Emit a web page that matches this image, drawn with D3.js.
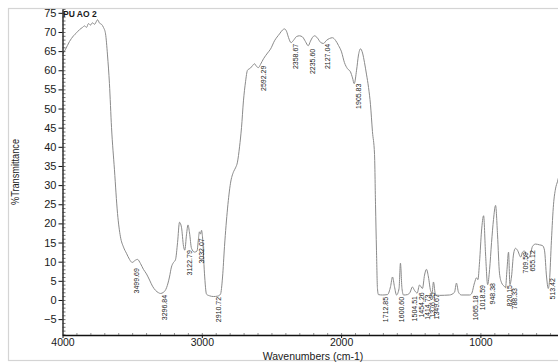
<!DOCTYPE html>
<html>
<head>
<meta charset="utf-8">
<script src="https://cdn.jsdelivr.net/npm/d3@7"></script>
<style>
  body { margin: 0; background: #fff; }
  svg { display: block; }
  text { font-family: "Liberation Sans", Arial, sans-serif; fill: #1a1a1a; }
</style>
</head>
<body>
<svg id="chart" width="558" height="363"></svg>
<script>
// IR spectrum of sample PU AO 2: wavenumber (cm-1) and %T
const wavenumbers = [
  4000, 3978, 3950, 3921, 3899, 3878, 3856, 3842, 3828, 3813, 3799, 3785, 3770, 3756, 3749,
  3734, 3720, 3706, 3691, 3677, 3663, 3648, 3627, 3605, 3584, 3562, 3541, 3519, 3500, 3476,
  3462, 3440, 3419, 3397, 3375, 3354, 3332, 3311, 3297, 3275, 3253, 3232, 3218, 3203, 3189,
  3174, 3160, 3146, 3131, 3122, 3110, 3099, 3088, 3074, 3052, 3034, 3024, 3017, 3009, 3002,
  2995, 2981, 2966, 2945, 2916, 2887, 2866, 2851, 2837, 2815, 2794, 2772, 2758, 2744, 2729,
  2715, 2701, 2686, 2672, 2650, 2636, 2622, 2607, 2593, 2579, 2557, 2528, 2507, 2478, 2442,
  2421, 2406, 2392, 2378, 2359, 2342, 2320, 2299, 2277, 2256, 2236, 2220, 2205, 2191, 2169,
  2148, 2127, 2105, 2083, 2062, 2040, 2019, 1997, 1976, 1954, 1933, 1918, 1906, 1889, 1875,
  1861, 1846, 1832, 1818, 1803, 1789, 1775, 1760, 1753, 1746, 1739, 1732, 1703, 1667, 1645,
  1631, 1617, 1602, 1584, 1574, 1563, 1552, 1523, 1505, 1488, 1473, 1454, 1437, 1416, 1401,
  1387, 1373, 1358, 1347, 1337, 1322, 1294, 1222, 1186, 1172, 1157, 1136, 1078, 1064, 1042,
  1028, 1018, 1006, 992, 977, 963, 948, 934, 920, 906, 891, 877, 863, 848, 827,
  820, 809, 798, 788, 777, 762, 748, 734, 710, 698, 683, 669, 655, 640, 626,
  604, 576, 554, 540, 525, 513, 504, 490, 475, 461, 446, 432, 411
];
const transmittance = [
  64.2, 65.5, 67.5, 69.0, 69.8, 70.6, 71.2, 71.6, 71.2, 72.2, 71.8, 72.4, 72.0, 72.8, 73.2,
  72.3, 72.0, 71.2, 69.5, 64.0, 56.5, 45.0, 34.0, 22.6, 16.5, 13.8, 12.2, 10.6, 9.8, 10.4,
  10.6, 9.5, 8.0, 6.8, 5.2, 3.6, 2.5, 1.9, 1.7, 2.0, 3.2, 6.0, 8.6, 9.8, 10.5,
  15.0, 20.3, 19.0, 14.0, 13.0, 17.0, 19.6, 17.5, 13.5, 12.5, 12.8, 16.0, 17.8, 17.2, 18.2,
  16.5, 7.0, 1.5, 1.1, 0.9, 1.0, 1.5, 6.0, 14.0, 24.0, 30.5, 33.5, 34.5, 36.0, 40.0,
  45.0, 52.0, 57.0, 60.0, 60.6, 61.2, 61.7, 61.0, 60.7, 61.5, 63.0, 64.5, 65.5, 67.7, 69.5,
  70.5, 70.8, 70.2, 68.6, 67.2, 67.8, 68.8, 69.0, 68.7, 67.5, 66.4, 67.6, 68.6, 69.0, 68.4,
  67.3, 67.0, 67.8, 68.3, 68.5, 67.8, 66.5, 64.8, 62.0, 60.4, 59.6, 58.0, 56.5, 60.0, 64.0,
  65.6, 64.5, 62.0, 59.0, 55.5, 51.0, 44.0, 38.0, 25.0, 13.0, 3.0, 1.4, 1.3, 1.4, 3.5,
  6.0, 3.5, 1.3, 3.0, 9.6, 3.0, 1.3, 1.4, 2.0, 3.4, 2.5, 1.8, 3.9, 3.0, 6.5,
  8.0, 6.0, 2.5, 1.8, 4.7, 1.3, 1.2, 1.3, 2.0, 4.4, 2.0, 1.3, 1.3, 1.6, 4.5,
  5.8, 5.3, 10.0, 18.0, 22.0, 12.0, 4.0, 8.0, 15.0, 21.0, 24.7, 17.0, 7.0, 4.5, 3.5,
  3.2, 8.0, 12.5, 4.0, 6.0, 12.0, 13.5, 13.0, 11.2, 12.5, 12.8, 11.5, 11.0, 12.0, 14.0,
  14.6, 14.4, 14.2, 13.0, 6.0, 3.0, 5.0, 15.6, 25.0, 29.0, 31.0, 33.0, 35.0
];

// Annotated absorption bands and the %T at each band
const peakPositions = [
  3499.69, 3296.84, 3122.79, 3032.07, 2910.72, 2592.29, 2358.67, 2235.60, 2127.04, 1905.83,
  1712.85, 1600.60, 1504.51, 1454.26, 1414.73, 1376.95, 1349.67, 1065.18, 1018.59, 948.38,
  820.15, 788.33, 709.59, 655.12, 513.42
];
const peakLevels = [
  9.1, 2.1, 13.8, 16.9, 1.6, 62.0, 67.7, 66.4, 67.7, 57.3,
  1.6, 1.6, 1.8, 2.8, 2.2, 2.8, 2.3, 2.0, 4.7, 5.2,
  4.7, 3.9, 13.3, 13.8, 6.5
];

const yTickValues = [-5, 0, 5, 10, 15, 20, 25, 30, 35, 40, 45, 50, 55, 60, 65, 70, 75];
const xTickValues = [4000, 3000, 2000, 1000];
const sampleName = "PU AO 2";
const xTitle = "Wavenumbers (cm-1)";
const yTitle = "%Transmittance";

const svg = d3.select("#chart");
const plot = { left: 62.5, top: 9, bottom: 335 };

const x = d3.scaleLinear().domain([4000, 400]).range([plot.left, plot.left + 3600 * 0.1393]);
const y = d3.scaleLinear().domain([-9.15, 76]).range([plot.bottom, plot.top]);

// outer frame
svg.append("rect")
  .attr("x", 8.5).attr("y", 8.5).attr("width", 570).attr("height", 352)
  .attr("fill", "none").attr("stroke", "#d4d4d4").attr("stroke-width", 1.2);

svg.append("defs").append("clipPath").attr("id", "plotClip")
  .append("rect").attr("x", plot.left).attr("y", plot.top)
  .attr("width", 600).attr("height", plot.bottom - plot.top);

// spectrum
const pts = wavenumbers.map((w, i) => [w, transmittance[i]]);
svg.append("path")
  .datum(pts)
  .attr("clip-path", "url(#plotClip)")
  .attr("fill", "none")
  .attr("stroke", "#8a8a8a")
  .attr("stroke-width", 1)
  .attr("d", d3.line().x(d => x(d[0])).y(d => y(d[1])).curve(d3.curveMonotoneX));

// y axis: major ticks outside, minor ticks inside
const yAxisG = svg.append("g").attr("transform", `translate(${plot.left},0)`)
  .call(d3.axisLeft(y).tickValues(yTickValues).tickSize(4).tickPadding(2).tickSizeOuter(0));
yAxisG.select(".domain").attr("stroke", "#111").attr("stroke-width", 1.3);
yAxisG.selectAll(".tick line").attr("stroke", "#111");
yAxisG.selectAll("text").style("font-size", "11px").attr("fill", "#1a1a1a");
svg.append("g").attr("transform", `translate(${plot.left},0)`)
  .call(d3.axisRight(y).tickValues(d3.range(-9, 77, 1)).tickSize(3).tickFormat("").tickSizeOuter(0))
  .call(g => g.select(".domain").remove())
  .selectAll(".tick line").attr("stroke", "#333").attr("stroke-width", 0.7);

// x axis
const xAxisG = svg.append("g").attr("transform", `translate(0,${plot.bottom})`)
  .call(d3.axisBottom(x).tickValues(xTickValues).tickSize(3).tickPadding(1).tickSizeOuter(0)
    .tickFormat(d3.format("d")));
xAxisG.select(".domain").attr("stroke", "#111").attr("stroke-width", 1.3);
xAxisG.selectAll(".tick line").attr("stroke", "#111");
xAxisG.selectAll("text").style("font-size", "10.5px").attr("fill", "#1a1a1a");
svg.append("g").attr("transform", `translate(0,${plot.bottom})`)
  .call(d3.axisTop(x).tickValues(d3.range(3900, 400, -100)).tickSize(2).tickFormat("").tickSizeOuter(0))
  .call(g => g.select(".domain").remove())
  .selectAll(".tick line").attr("stroke", "#444").attr("stroke-width", 0.6);

// titles
svg.append("text")
  .attr("x", 313).attr("y", 359.5)
  .attr("text-anchor", "middle")
  .style("font-size", "10.5px")
  .text(xTitle);

svg.append("text")
  .attr("transform", `translate(19,${(plot.top + plot.bottom) / 2}) rotate(-90)`)
  .attr("text-anchor", "middle")
  .attr("textLength", 66).attr("lengthAdjust", "spacingAndGlyphs")
  .style("font-size", "10.5px")
  .text(yTitle);

svg.append("text")
  .attr("x", plot.left + 0.5).attr("y", 17)
  .style("font-size", "8.5px").style("font-weight", "bold")
  .text(sampleName);

// band labels, written upward from just below each band
svg.append("g").selectAll("text")
  .data(peakPositions.map((p, i) => ({ p, t: peakLevels[i] })))
  .join("text")
  .attr("transform", d => `translate(${x(d.p) + 7},${y(d.t) + 3}) rotate(-90)`)
  .attr("text-anchor", "end")
  .style("font-size", "7px")
  .text(d => d.p.toFixed(2));
</script>
</body>
</html>
